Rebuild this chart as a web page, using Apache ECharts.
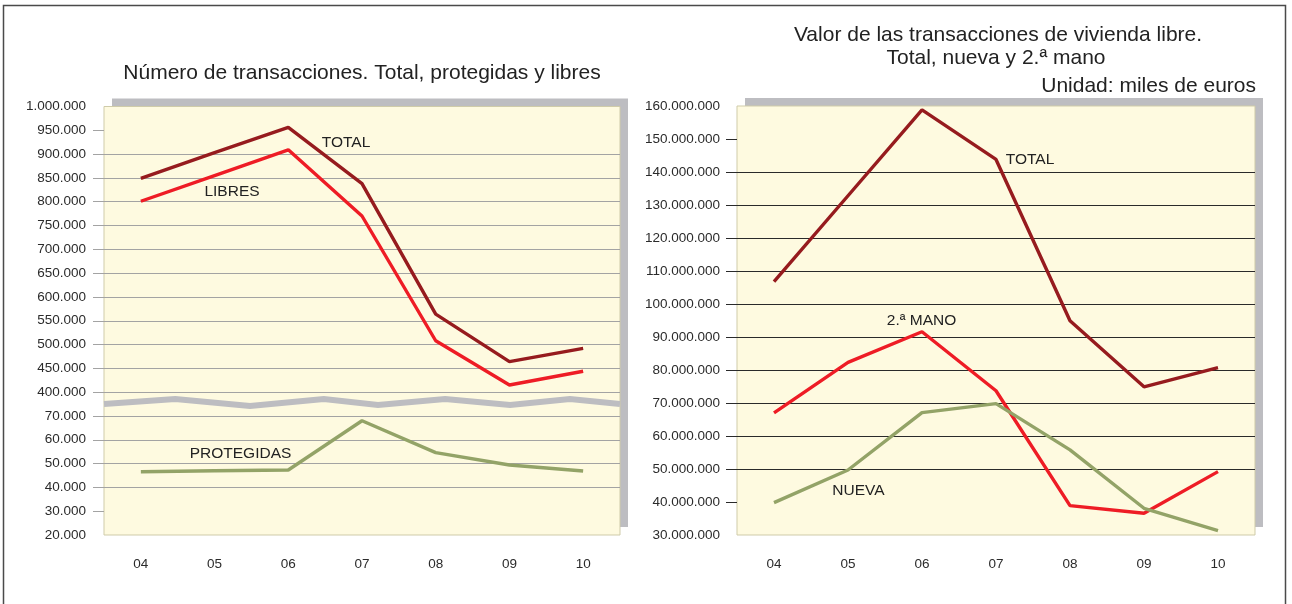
<!DOCTYPE html>
<html>
<head>
<meta charset="utf-8">
<script src="https://cdn.jsdelivr.net/npm/echarts@6/dist/echarts.min.js"></script>
<style>
html,body{margin:0;padding:0;background:#fff;}
#chart{width:1292px;height:604px;}
</style>
</head>
<body>
<div id="chart"></div>
<script>
// ---------- DATA ----------
const categories = ['04', '05', '06', '07', '08', '09', '10'];

// Left chart: number of transactions
const totalTransacciones = [849000, 903000, 956000, 838000, 564000, 464000, 492000];
const libresTransacciones = [801000, 855000, 909000, 770000, 508000, 415000, 444000];
const protegidasTransacciones = [46600, 47000, 47300, 68000, 54600, 49400, 46900];

// Right chart: value of free housing transactions (thousands of euros)
const totalValor = [106800000, 132800000, 158800000, 143800000, 94900000, 74900000, 80700000];
const segundaManoValor = [67000000, 82300000, 91600000, 73700000, 38900000, 36600000, 49200000];
const nuevaValor = [39800000, 49700000, 67100000, 69800000, 55800000, 38100000, 31300000];

// Axis ranges / tick steps
const leftUpperAxis = { min: 400000, max: 1000000, step: 50000 };
const leftLowerAxis = { min: 20000, max: 70000, step: 10000 };
const rightAxis = { min: 30000000, max: 160000000, step: 10000000 };

// Texts
const leftTitle = 'Número de transacciones. Total, protegidas y libres';
const rightTitleLines = ['Valor de las transacciones de vivienda libre.', 'Total, nueva y 2.ª mano'];
const rightUnit = 'Unidad: miles de euros';
const labelsLeft = ['TOTAL', 'LIBRES', 'PROTEGIDAS'];
const labelsRight = ['TOTAL', '2.ª MANO', 'NUEVA'];

// ---------- HELPERS ----------
function fmt(v) {
  return String(Math.round(v)).replace(/\B(?=(\d{3})+(?!\d))/g, '.');
}
function interior(a, includeMin, includeMax) {
  const out = [];
  for (let v = a.min; v <= a.max + 1e-6; v += a.step) {
    if (v === a.min && !includeMin) continue;
    if (v === a.max && !includeMax) continue;
    out.push(v);
  }
  return out;
}

// ---------- LAYOUT ----------
const W = 1292;
const L = { x0: 104, x1: 620, top: 106.5, bottom: 535 };
const unit = (L.bottom - L.top) / 18;
const upperH = unit * 12;
const lowerTop = L.top + unit * 13;
const R = { x0: 737, x1: 1255, top: 106, bottom: 535 };

const COL_TOTAL = '#961b1e';
const COL_RED = '#ee1c25';
const COL_GREEN = '#93a367';
const BG = '#fefae0';
const SHADOW = '#bdbdc1';
const BORDER = '#cfcba9';
const FONT = "'Liberation Sans', Arial, Helvetica, sans-serif";

const chart = echarts.init(document.getElementById('chart'), null, { renderer: 'canvas' });

function yAxisCfg(gridIndex, a, ticks, lineColor, opts) {
  return Object.assign({
    type: 'value',
    gridIndex: gridIndex,
    min: a.min,
    max: a.max,
    interval: a.step,
    axisLine: { show: false },
    axisTick: { show: true, length: 11, lineStyle: { color: lineColor, width: 1 }, customValues: ticks },
    axisLabel: { show: true, margin: 18, color: '#2b2b2b', fontSize: 13.5, fontFamily: FONT, formatter: fmt },
    splitLine: { show: true, lineStyle: { color: lineColor, width: 1 } }
  }, opts || {});
}

const option = {
  animation: false,
  backgroundColor: '#fff',
  grid: [
    { left: L.x0, right: W - L.x1, top: L.top, height: upperH },
    { left: L.x0, right: W - L.x1, top: lowerTop, height: L.bottom - lowerTop },
    { left: R.x0, right: W - R.x1, top: R.top, height: R.bottom - R.top }
  ],
  xAxis: [
    { type: 'category', gridIndex: 0, data: categories, boundaryGap: true, show: false },
    { type: 'category', gridIndex: 1, data: categories, boundaryGap: true,
      axisLine: { show: false }, axisTick: { show: false },
      axisLabel: { margin: 22, color: '#2b2b2b', fontSize: 13.5, fontFamily: FONT } },
    { type: 'category', gridIndex: 2, data: categories, boundaryGap: true,
      axisLine: { show: false }, axisTick: { show: false },
      axisLabel: { margin: 22, color: '#2b2b2b', fontSize: 13.5, fontFamily: FONT } }
  ],
  yAxis: [
    (function () {
      const c = yAxisCfg(0, leftUpperAxis, interior(leftUpperAxis, true, false), '#a3a3a3');
      c.splitLine.showMaxLine = false;
      c.splitLine.showMinLine = true;
      return c;
    })(),
    (function () {
      const c = yAxisCfg(1, leftLowerAxis, interior(leftLowerAxis, false, true), '#a3a3a3');
      c.splitLine.showMinLine = false;
      c.splitLine.showMaxLine = true;
      return c;
    })(),
    (function () {
      const c = yAxisCfg(2, rightAxis, interior(rightAxis, false, false), '#2a2a2a');
      c.axisLabel.margin = 17;
      c.splitLine.showMinLine = false;
      c.splitLine.showMaxLine = false;
      return c;
    })()
  ],
  series: [
    { name: 'TOTAL', type: 'line', xAxisIndex: 0, yAxisIndex: 0, data: totalTransacciones,
      showSymbol: false, symbol: 'none', lineStyle: { color: COL_TOTAL, width: 3.4 }, z: 5 },
    { name: 'LIBRES', type: 'line', xAxisIndex: 0, yAxisIndex: 0, data: libresTransacciones,
      showSymbol: false, symbol: 'none', lineStyle: { color: COL_RED, width: 3.4 }, z: 5 },
    { name: 'PROTEGIDAS', type: 'line', xAxisIndex: 1, yAxisIndex: 1, data: protegidasTransacciones,
      showSymbol: false, symbol: 'none', lineStyle: { color: COL_GREEN, width: 3.4 }, z: 5 },
    { name: 'TOTAL valor', type: 'line', xAxisIndex: 2, yAxisIndex: 2, data: totalValor,
      showSymbol: false, symbol: 'none', lineStyle: { color: COL_TOTAL, width: 3.4 }, z: 5 },
    { name: '2.ª MANO', type: 'line', xAxisIndex: 2, yAxisIndex: 2, data: segundaManoValor,
      showSymbol: false, symbol: 'none', lineStyle: { color: COL_RED, width: 3.4 }, z: 5 },
    { name: 'NUEVA', type: 'line', xAxisIndex: 2, yAxisIndex: 2, data: nuevaValor,
      showSymbol: false, symbol: 'none', lineStyle: { color: COL_GREEN, width: 3.4 }, z: 6 }
  ],
  graphic: []
};

// Decorative elements (frame, shadows, backgrounds, axis break, titles, annotations)
const g = [];
g.push({ type: 'rect', z: -20, silent: true,
  shape: { x: 3.5, y: 5.5, width: 1282, height: 640 },
  style: { fill: '#fff', stroke: '#4a4a4a', lineWidth: 1.5 } });
// left shadow + plot
g.push({ type: 'rect', z: -15, silent: true,
  shape: { x: L.x0 + 8, y: L.top - 8, width: L.x1 - L.x0, height: L.bottom - L.top },
  style: { fill: SHADOW } });
g.push({ type: 'rect', z: -14, silent: true,
  shape: { x: L.x0, y: L.top, width: L.x1 - L.x0, height: L.bottom - L.top },
  style: { fill: BG, stroke: BORDER, lineWidth: 1 } });
// right shadow + plot
g.push({ type: 'rect', z: -15, silent: true,
  shape: { x: R.x0 + 8, y: R.top - 8, width: R.x1 - R.x0, height: R.bottom - R.top },
  style: { fill: SHADOW } });
g.push({ type: 'rect', z: -14, silent: true,
  shape: { x: R.x0, y: R.top, width: R.x1 - R.x0, height: R.bottom - R.top },
  style: { fill: BG, stroke: BORDER, lineWidth: 1 } });
// axis break wave (left chart)
const waveY = L.top + unit * 12.5;
const waveFx = [0, 0.138, 0.283, 0.426, 0.531, 0.661, 0.787, 0.903, 1];
const waveDy = [0, -5, 2, -5, 1, -5, 1, -5, 0];
g.push({ type: 'polyline', z: 1, silent: true,
  shape: { points: waveFx.map((f, i) => [L.x0 + f * (L.x1 - L.x0), waveY + waveDy[i]]) },
  style: { stroke: SHADOW, lineWidth: 6, fill: null, lineJoin: 'miter' } });

function txt(text, x, y, size, align) {
  return { type: 'text', z: 20, silent: true, x: x, y: y,
    style: { text: text, fill: '#222', font: size + 'px ' + FONT, textAlign: align || 'center', textVerticalAlign: 'middle' } };
}
// titles
g.push(txt(leftTitle, (L.x0 + L.x1) / 2, 73, 21));
g.push(txt(rightTitleLines[0], (R.x0 + R.x1) / 2 + 2, 35, 21));
g.push(txt(rightTitleLines[1], (R.x0 + R.x1) / 2, 58, 21));
g.push(txt(rightUnit, R.x1 + 1, 86, 21, 'right'));
// annotations
g.push(txt(labelsLeft[0], 346, 143, 15.5));
g.push(txt(labelsLeft[1], 232, 192, 15.5));
g.push(txt(labelsLeft[2], 240.5, 453.5, 15.5));
g.push(txt(labelsRight[0], 1030, 159.5, 15.5));
g.push(txt(labelsRight[1], 921.5, 321, 15.5));
g.push(txt(labelsRight[2], 858.5, 491, 15.5));

option.graphic = g;
chart.setOption(option);
</script>
</body>
</html>
